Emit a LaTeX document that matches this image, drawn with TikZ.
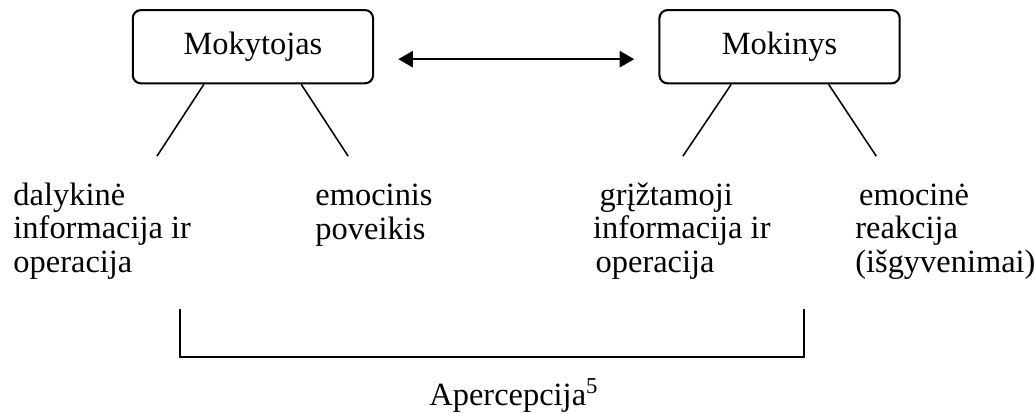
\documentclass[tikz,border=0pt]{standalone}
\usepackage{fontspec}
\setmainfont{Liberation Serif}
\usetikzlibrary{positioning,arrows.meta}

\begin{document}
\begin{tikzpicture}[
    actor/.style={draw, line width=0.8pt, rounded corners=1.1mm, minimum width=3.28cm, minimum height=1cm, font=\fontsize{12.6}{14}\selectfont},
    leaf/.style={anchor=base west, align=left, inner sep=0pt, font=\fontsize{12.6}{13}\selectfont},
  ]
  \useasboundingbox (0,0) rectangle (14.13,5.64);
  \node[actor] (Mok) at (3.453,5.002) {Mokytojas};
  \node[actor, on grid, right=7.19cm of Mok] (Mokin) {Mokinys};
  \draw[line width=1pt, {Triangle[length=2mm,width=2.2mm]}-{Triangle[length=2mm,width=2.2mm]}] ([xshift=3.3mm,yshift=-1.7mm]Mok.east) -- ([xshift=-3.3mm,yshift=-1.7mm]Mokin.west);
  \draw[line width=0.6pt] ([xshift=-0.67cm]Mok.south) -- ++(-0.64,-0.98);
  \draw[line width=0.6pt] ([xshift=0.66cm]Mok.south) -- ++(0.64,-0.98);
  \draw[line width=0.6pt] ([xshift=-0.66cm]Mokin.south) -- ++(-0.66,-0.98);
  \draw[line width=0.6pt] ([xshift=0.67cm]Mokin.south) -- ++(0.65,-0.98);
  % base anchor sits on the last line
  \node[leaf] (Dal) at (0.177,1.925) {dalykinė\\informacija ir\\operacija};
  \node[leaf] (Emo) at (4.30,2.375) {emocinis\\poveikis};
  \node[leaf] (Grz) at (8.09,1.925) {\hspace*{2.5pt}grįžtamoji\\informacija ir\\\hspace*{1pt}operacija};
  \node[leaf] (Rea) at (11.67,1.925) {\hspace*{1.5pt}emocinė\\reakcija\\(išgyvenimai)};
  \coordinate (BrL) at (2.457,1.42);
  \coordinate (BrR) at (10.975,1.42);
  \draw[line width=0.9pt] (BrL) -- ++(0,-0.656) -| (BrR);
  \node[leaf] (Aper) at (5.856,0.109) {Apercepcija\textsuperscript{5}};
\end{tikzpicture}
\end{document}
